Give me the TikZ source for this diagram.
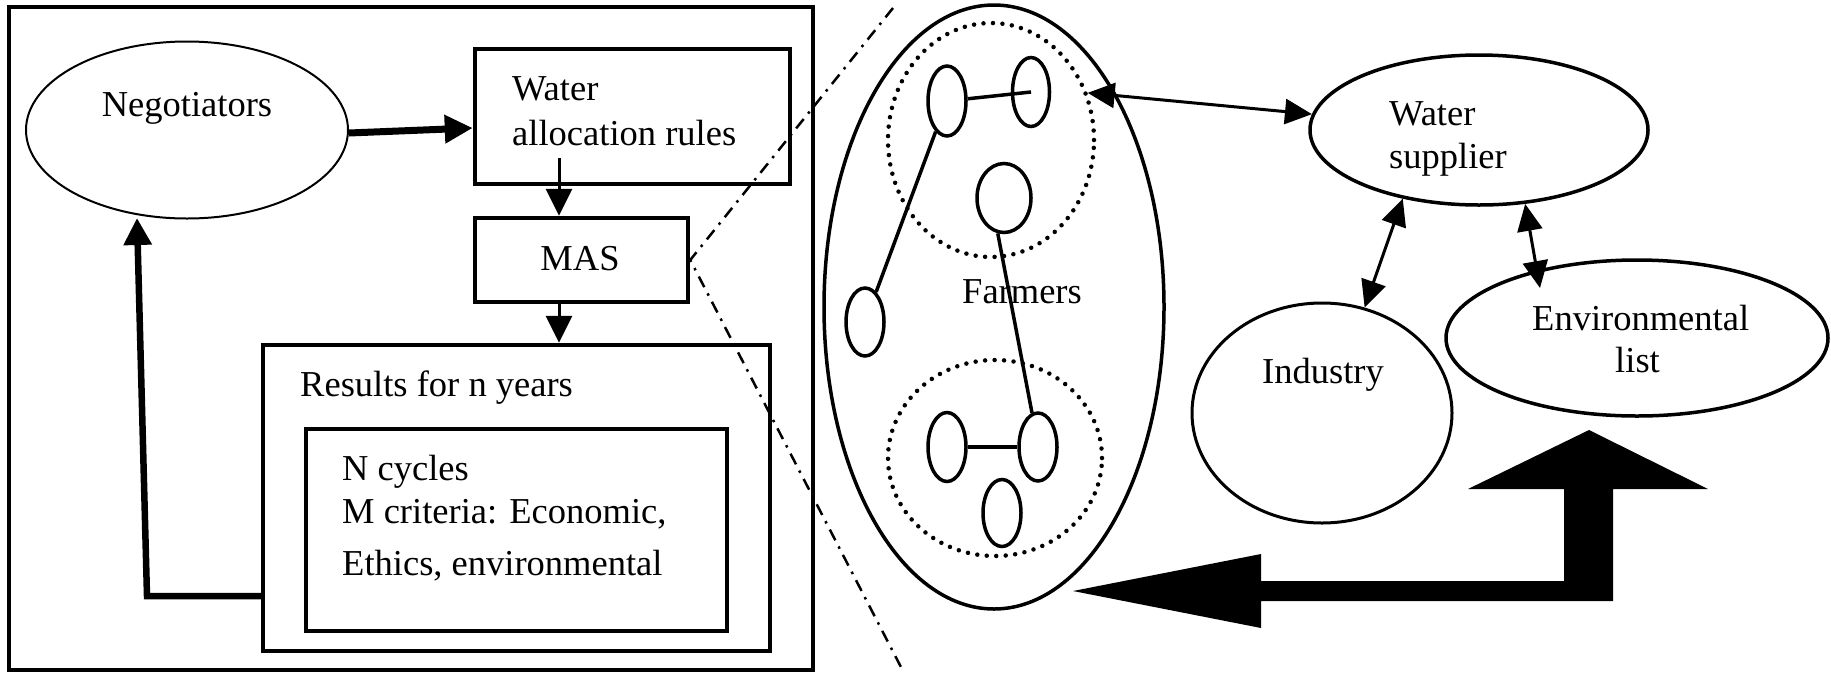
\documentclass[tikz,border=0pt]{standalone}
\usepackage{fontspec}
\setmainfont{Liberation Serif}
\newfontfamily\tnr{Liberation Serif}
\usetikzlibrary{arrows.meta,shapes.geometric}
\begin{document}
\begin{tikzpicture}[x=1pt,y=-1pt,
  box/.style={draw,line width=4.5pt,rectangle,inner sep=0pt},
  oval/.style={draw,ellipse,inner sep=0pt,line width=3.5pt},
  agent/.style={draw,ellipse,inner sep=0pt,line width=3.5pt},
  grp/.style={draw,ellipse,inner sep=0pt,line width=4.5pt,line cap=round,dash pattern=on 0pt off 9.5pt},
  txt/.style={inner sep=0pt,font=\tnr\fontsize{36.5}{43}\selectfont},
  arr/.style={line width=3pt,-{Triangle[length=27pt,width=26pt]}},
  dbl/.style={line width=3pt,{Triangle[length=27pt,width=25pt]}-{Triangle[length=27pt,width=25pt]}},
  fb/.style={line width=6.5pt,-{Triangle[length=27pt,width=27pt]}},
  link/.style={line width=3.5pt},
  zoomline/.style={line width=2.5pt,dash pattern=on 12pt off 7pt on 2.5pt off 7pt}
]
\useasboundingbox (0,0) rectangle (1831,673);

% ---------- left panel ----------
\node[box,minimum width=804pt,minimum height=663pt] (frame) at (411,338.5) {};

\node[oval,line width=2pt,minimum width=322pt,minimum height=177pt] (neg) at (187,130) {};
\node[txt,anchor=base] (negt) at (187,116) {Negotiators};

\node[box,minimum width=315pt,minimum height=135pt] (war) at (632.5,116.5) {};
\node[txt,anchor=base west] (wart1) at (512,100) {Water};
\node[txt,anchor=base west] (wart2) at (512,145) {allocation rules};

\node[box,minimum width=213pt,minimum height=84pt] (mas) at (581.5,260) {};
\node[txt,anchor=base] (mast) at (580,270) {MAS};

\node[box,minimum width=507pt,minimum height=306pt] (res) at (516.5,498) {};
\node[txt,anchor=base west] (rest) at (300,396) {Results for n years};

\node[box,minimum width=421pt,minimum height=202pt] (crit) at (516.5,530) {};
\node[txt,anchor=base west] (c1) at (342,480) {N cycles};
\node[txt,anchor=base west] (c2) at (342,523) {M criteria: Economic,};
\node[txt,anchor=base west] (c3) at (342,575) {Ethics, environmental};

\draw[line width=7pt,-{Triangle[length=28pt,width=27pt]}] ([yshift=-3pt]neg.east) -- ([yshift=-11.5pt]war.west);
\coordinate (wa) at (559,158);
\draw[arr] (wa) -- (wa |- mas.north);
\draw[arr] (mas.south -| wa) -- (res.north -| wa);

\coordinate (fb1) at (147,596);
\coordinate (fb2) at (137,218);
\draw[fb] (res.west |- fb1) -- (fb1) -- (fb2);

\coordinate (z1) at (893,8);
\coordinate (z2) at (903,671);
\draw[zoomline] (z1) -- (mas.east) -- (z2);

% ---------- right panel ----------
\node[oval,minimum width=340pt,minimum height=604pt] (farm) at (994,307) {};
\node[grp,minimum width=206pt,minimum height=234pt] (g1) at (991,140) {};
\node[grp,minimum width=214pt,minimum height=196pt] (g2) at (995,458) {};

\node[agent,minimum width=38pt,minimum height=70pt] (a1) at (947,101) {};
\node[agent,minimum width=37pt,minimum height=69pt] (a2) at (1031,92) {};
\node[agent,minimum width=54pt,minimum height=69pt] (a3) at (1004,198) {};
\node[agent,minimum width=38pt,minimum height=68pt] (a4) at (865,322) {};
\node[agent,minimum width=38pt,minimum height=69pt] (a5) at (947,447) {};
\node[agent,minimum width=38pt,minimum height=68pt] (a6) at (1038,447) {};
\node[agent,minimum width=38pt,minimum height=67pt] (a7) at (1002,513) {};

\draw[link] (a1) -- (a2.center);
\draw[link] (a1) -- (a4);
\draw[link] (a3.260) -- (a6.100);
\draw[link] (a5) -- (a6);

\node[txt,anchor=base] (farmt) at (1022,303) {Farmers};

\node[oval,minimum width=338pt,minimum height=150pt] (ws) at (1479,130) {};
\node[txt,anchor=base west] (wst1) at (1389,125) {Water};
\node[txt,anchor=base west] (wst2) at (1389,168) {supplier};

\node[oval,line width=3pt,minimum width=260pt,minimum height=220pt] (ind) at (1322,413) {};
\node[txt,anchor=base] (indt) at (1323,383) {Industry};

\node[oval,minimum width=382pt,minimum height=156pt] (env) at (1637,338) {};
\node[txt,anchor=base west] (envt1) at (1532,330) {Environmental};
\node[txt,anchor=base west] (envt2) at (1615,372) {list};

\draw[dbl] (g1.26) -- (ws);
\draw[dbl] (ws.222) -- (ind.68);
\coordinate (et) at (1540,288);
\draw[dbl] (ws.302) -- (et);

\fill (1073,591) -- (1261,554) -- (1261,581) -- (1564,581) -- (1564,489)
  -- (1468,489) -- (1589,430) -- (1708,489) -- (1613,489) -- (1613,601)
  -- (1261,601) -- (1261,628) -- cycle;
\end{tikzpicture}
\end{document}
